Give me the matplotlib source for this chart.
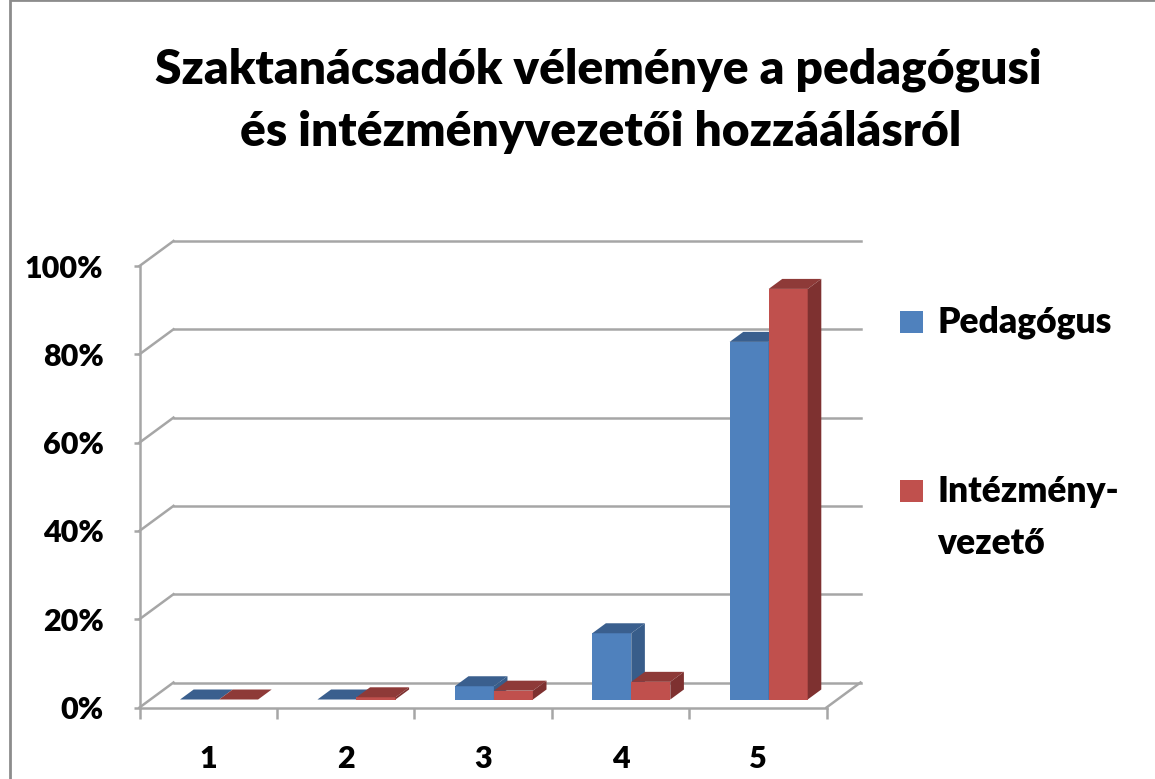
import numpy as np
import matplotlib
matplotlib.use("Agg")
import matplotlib.pyplot as plt
from matplotlib.patches import Polygon, Rectangle

plt.rcParams['font.family'] = ['Lato', 'DejaVu Sans']

# data
categories = ['1', '2', '3', '4', '5']
pedagogus = [0, 0, 3, 15, 81]
intezmenyvezeto = [0, 0.5, 2, 4, 93]
y_ticks = [0, 20, 40, 60, 80, 100]

W, H = 1155, 779
fig = plt.figure(figsize=(W / 100, H / 100), dpi=100)

def fx(px):
    return px / W

def fy(py):
    return 1 - py / H

# outer chart border
fig.add_artist(Rectangle((fx(10), fy(900)), fx(1300), 900 / H,
                         transform=fig.transFigure, fill=False,
                         edgecolor='#8c8c8c', lw=2))

# front plane of the plot
ax = fig.add_axes([fx(139.5), fy(707.5), fx(826.5) - fx(139.5), fy(266) - fy(707.5)])
ax.set_xlim(0.5, 5.5)
ax.set_ylim(0, 100)
grid_c = '#a6a6a6'

# depth of the 3d box in data units
Dx, Dy = 34 / 137.4, 25 / 4.415

# back wall gridlines + left wall diagonals
for v in y_ticks:
    ax.plot([0.5 + Dx, 5.5 + Dx], [v + Dy, v + Dy], color=grid_c, lw=1.8, clip_on=False, zorder=1)
    ax.plot([0.5, 0.5 + Dx], [v, v + Dy], color=grid_c, lw=1.8, clip_on=False, zorder=1)
# floor right edge
ax.plot([5.5, 5.5 + Dx], [0, Dy], color=grid_c, lw=1.8, clip_on=False, zorder=1)

for sp in ['top', 'right']:
    ax.spines[sp].set_visible(False)
for sp in ['left', 'bottom']:
    ax.spines[sp].set_color(grid_c)
    ax.spines[sp].set_linewidth(1.8)
ax.patch.set_alpha(0)

ax.set_yticks(y_ticks)
ax.set_yticklabels([f'{v}%' for v in y_ticks], fontsize=22, fontweight='heavy')
ax.tick_params(axis='y', length=4, width=1.8, color=grid_c, pad=22)
ax.set_xticks(np.arange(0.5, 6, 1))
ax.set_xticklabels([])
ax.tick_params(axis='x', length=8, width=1.8, color=grid_c)
ax.set_xticks(np.arange(1, 6), minor=True)
ax.set_xticklabels(categories, minor=True, fontsize=22, fontweight='heavy')
ax.tick_params(axis='x', which='minor', length=0, pad=27)

# bars (front face via bar, top and side faces as polygons)
f0, f1 = 0.32, 0.72
w = 0.284
ddx, ddy = (f1 - f0) * Dx, (f1 - f0) * Dy
base = f0 * Dy
colors = [('#4f81bd', '#3a5f8e', '#385d8a'), ('#c0504d', '#8e3a38', '#7e3130')]
for i in range(len(categories)):
    for s, vals in enumerate([pedagogus, intezmenyvezeto]):
        v = vals[i]
        front, top, side = colors[s]
        xl = (i + 1) + f0 * Dx - w + s * w
        ax.bar(xl, v, width=w, bottom=base, align='edge', color=front,
               lw=0, zorder=3 + i * 2 + s, clip_on=False)
        yt = base + v
        ax.add_patch(Polygon([(xl, yt), (xl + w, yt), (xl + w + ddx, yt + ddy), (xl + ddx, yt + ddy)],
                             closed=True, color=top, lw=0, zorder=3 + i * 2 + s, clip_on=False))
        ax.add_patch(Polygon([(xl + w, base), (xl + w, yt), (xl + w + ddx, yt + ddy), (xl + w + ddx, base + ddy)],
                             closed=True, color=side, lw=0, zorder=3 + i * 2 + s, clip_on=False))

# title
fig.text(fx(598), fy(70), 'Szaktanácsadók véleménye a pedagógusi', ha='center', va='center',
         fontsize=34.5, fontweight='heavy')
fig.text(fx(601), fy(132), 'és intézményvezetői hozzáálásról', ha='center', va='center',
         fontsize=34.5, fontweight='heavy')

# legend
for py, c in [(322, '#4f81bd'), (491, '#c0504d')]:
    fig.add_artist(Rectangle((fx(900), fy(py + 11)), fx(23), 22 / H, transform=fig.transFigure,
                             color=c, lw=0))
for py, lab in [(322, 'Pedagógus'), (491, 'Intézmény-'), (544, 'vezető')]:
    fig.text(fx(937), fy(py), lab, ha='left', va='center', fontsize=25.5, fontweight='heavy')

fig.savefig('out.png', dpi=100)
